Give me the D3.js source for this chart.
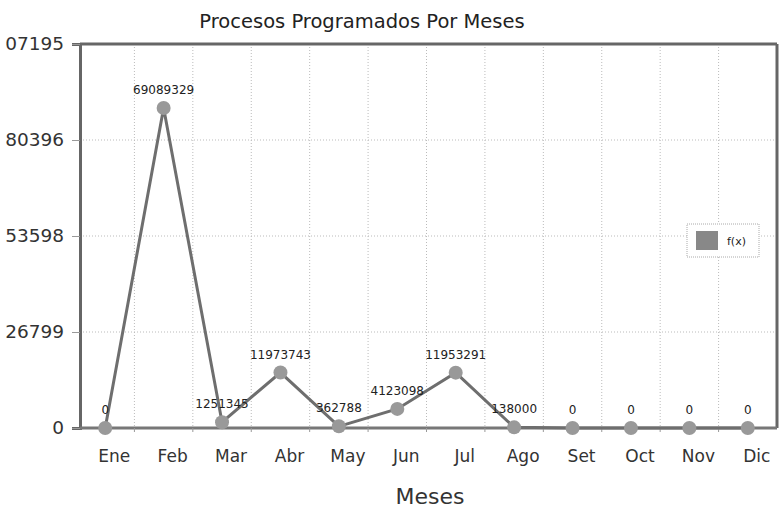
<!DOCTYPE html>
<html><head><meta charset="utf-8">
<script src="https://cdn.jsdelivr.net/npm/d3@7"></script>
<style>
body{margin:0;background:#fff;}
text{font-family:"DejaVu Sans","Noto Sans",sans-serif;}
</style></head>
<body><svg id="c" width="780" height="515"></svg>
<script>
const months = ["Ene","Feb","Mar","Abr","May","Jun","Jul","Ago","Set","Oct","Nov","Dic"];
const values = [0, 69089329, 1251345, 11973743, 362788, 4123098, 11953291, 138000, 0, 0, 0, 0];
const yTicks = [0, 20726799, 41453598, 62180396, 82907195];
// tick labels as visible in the reference (left part cut off by the image edge)
const yTickLabels = ["0", "26799", "53598", "80396", "07195"];
const seriesName = "f(x)";
const title = "Procesos Programados Por Meses";
const xTitle = "Meses";

const svg = d3.select("#c");
const L = 80, R = 777, T = 44, B = 428;
const x = d3.scaleBand().domain(months).range([76, 777]);
const y = d3.scaleLinear().domain([0, 82907195]).range([B, T]);
const cx = d => x(d) + x.bandwidth()/2;

// grid
const g = svg.append("g");
g.selectAll(".hg").data(yTicks).join("line")
  .attr("x1", L).attr("x2", R).attr("y1", d=>y(d)).attr("y2", d=>y(d))
  .attr("stroke", "#bbb").attr("stroke-dasharray", "1,2");
g.selectAll(".vg").data(months.slice(1)).join("line")
  .attr("x1", d=>x(d)).attr("x2", d=>x(d)).attr("y1", T).attr("y2", B)
  .attr("stroke", "#bbb").attr("stroke-dasharray", "1,2");

// frame
svg.append("line").attr("x1", L).attr("x2", R).attr("y1", T).attr("y2", T).attr("stroke", "#666").attr("stroke-width", 3);
svg.append("line").attr("x1", R).attr("x2", R).attr("y1", T).attr("y2", B).attr("stroke", "#666").attr("stroke-width", 3);

// y axis
const ya = svg.append("g").attr("transform", `translate(${L},0)`)
  .call(d3.axisLeft(y).tickValues(yTicks).tickFormat((d,i)=>yTickLabels[i]).tickSize(8).tickPadding(8));
ya.select(".domain").attr("stroke", "#666").attr("stroke-width", 3);
ya.selectAll(".tick line").attr("stroke", "#999");
ya.selectAll("text").attr("font-size", 18.5).attr("fill", "#333");

// x axis
const xa = svg.append("g").attr("transform", `translate(0,${B})`)
  .call(d3.axisBottom(x).tickSize(0).tickPadding(22));
xa.select(".domain").attr("stroke", "#777").attr("stroke-width", 3).attr("d", `M${L},0H${R}`);
xa.selectAll("text").attr("font-size", 17).attr("fill", "#333").attr("dx", 9);
svg.append("g").selectAll("line").data(months.slice(1)).join("line")
  .attr("x1", d=>x(d)).attr("x2", d=>x(d)).attr("y1", B).attr("y2", B+4).attr("stroke", "#999");

// line
const line = d3.line().x((d,i)=>cx(months[i])).y(d=>y(d));
svg.append("path").datum(values).attr("d", line)
  .attr("fill", "none").attr("stroke", "#6e6e6e").attr("stroke-width", 3);
svg.selectAll(".pt").data(values).join("circle")
  .attr("cx", (d,i)=>cx(months[i])).attr("cy", d=>y(d)).attr("r", 7)
  .attr("fill", "#999");
svg.selectAll(".lb").data(values).join("text")
  .attr("x", (d,i)=>cx(months[i])).attr("y", d=>y(d)-14)
  .attr("text-anchor", "middle").attr("font-size", 12).attr("fill", "#222")
  .text(d=>d);

// legend
const lg = svg.append("g").attr("transform", "translate(687,224)");
lg.append("rect").attr("width", 72).attr("height", 33).attr("fill", "#fff")
  .attr("stroke", "#aaa").attr("stroke-dasharray", "1,1");
lg.append("rect").attr("x", 9).attr("y", 7).attr("width", 22).attr("height", 19).attr("fill", "#888");
lg.append("text").attr("x", 40).attr("y", 21).attr("font-size", 11).attr("fill", "#222").text(seriesName);

// titles
svg.append("text").attr("x", 362).attr("y", 28).attr("text-anchor", "middle")
  .attr("font-size", 19.5).attr("fill", "#222").text(title);
svg.append("text").attr("x", 430).attr("y", 504).attr("text-anchor", "middle")
  .attr("font-size", 22).attr("fill", "#333").text(xTitle);
</script></body></html>
